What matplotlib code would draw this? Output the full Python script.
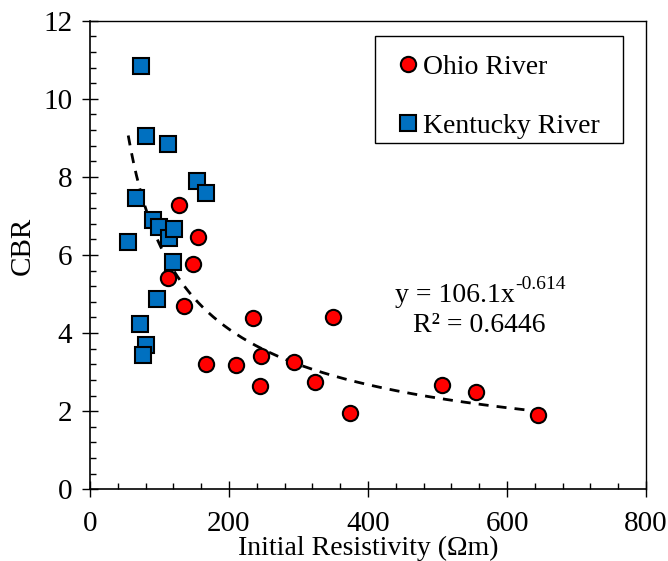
import numpy as np
import matplotlib
matplotlib.use("Agg")
import matplotlib.pyplot as plt
from matplotlib.patches import Rectangle
from matplotlib.ticker import MultipleLocator

plt.rcParams["font.family"] = ["Liberation Serif", "DejaVu Serif"]

# Ohio River samples: initial resistivity (ohm-m) vs CBR
ohio_res = [128.5, 155.0, 148.6, 112.7, 134.8, 166.2, 209.5, 235.0, 349.2,
            245.6, 293.5, 245.0, 323.7, 374.8, 506.0, 554.9, 645.0]
ohio_cbr = [7.28, 6.45, 5.76, 5.42, 4.69, 3.21, 3.18, 4.38, 4.42,
            3.41, 3.25, 2.65, 2.74, 1.95, 2.67, 2.48, 1.90]

# Kentucky River samples
ky_res = [73.4, 81.0, 112.2, 153.5, 166.5, 65.8, 90.2, 98.8, 113.2,
          121.3, 119.8, 55.0, 96.0, 71.5, 80.1, 76.7]
ky_cbr = [10.84, 9.05, 8.85, 7.89, 7.60, 7.45, 6.89, 6.72, 6.44,
          6.66, 5.82, 6.33, 4.88, 4.24, 3.70, 3.45]

# Power-law trendline for the combined data set
coef_a = 106.1
coef_b = -0.614
r_squared = 0.6446

W, H = 668, 561
fig = plt.figure(figsize=(W / 100, H / 100), dpi=100)
ax = fig.add_axes([90 / W, 1 - 489.3 / H, 556 / W, (489.3 - 20.7) / H])

all_x = np.array(ohio_res + ky_res)
xs = np.linspace(all_x.min(), all_x.max(), 300)
ax.plot(xs, coef_a * xs ** coef_b, color="black", lw=2.0,
        linestyle=(0, (3.6, 2.9)), zorder=2)

ax.plot(ky_res, ky_cbr, linestyle="none", marker="s", markersize=11,
        markerfacecolor="#0070C0", markeredgecolor="black",
        markeredgewidth=1.5, label="Kentucky River", zorder=3)
ax.plot(ohio_res, ohio_cbr, linestyle="none", marker="o", markersize=11,
        markerfacecolor="#FF0000", markeredgecolor="black",
        markeredgewidth=1.5, label="Ohio River", zorder=4)

ax.set_xlim(0, 800)
ax.set_ylim(0, 12)
ax.xaxis.set_major_locator(MultipleLocator(200))
ax.xaxis.set_minor_locator(MultipleLocator(40))
ax.yaxis.set_major_locator(MultipleLocator(2))
ax.yaxis.set_minor_locator(MultipleLocator(0.4))

ax.tick_params(which="major", direction="inout", length=11.5, width=1.0,
               labelsize=21, color="black")
ax.tick_params(which="minor", direction="in", length=4.3, width=1.0,
               color="black")
ax.tick_params(axis="x", which="major", pad=10)
ax.tick_params(axis="y", which="major", pad=7)

for side in ["left", "bottom"]:
    ax.spines[side].set_linewidth(1.2)
for side in ["top", "right"]:
    ax.spines[side].set_linewidth(1.0)

ax.set_xlabel("Initial Resistivity (Ωm)", fontsize=20, labelpad=-1)
ax.set_ylabel("CBR", fontsize=21)
ax.yaxis.set_label_coords(-0.097, 0.52)

# Legend entries, with a plain rectangular frame around them
handles, labels = ax.get_legend_handles_labels()
ax.legend(handles[::-1], labels[::-1], loc="upper left",
          bbox_to_anchor=(375 / W, 1 - 42 / H),
          bbox_transform=fig.transFigure, fontsize=20, frameon=False,
          handlelength=1.48, handletextpad=-0.2, labelspacing=1.2,
          borderpad=0.45, borderaxespad=0)
fig.patches.append(Rectangle((375 / W, 1 - 143 / H), 248 / W, 107 / H,
                             transform=fig.transFigure, fill=False,
                             edgecolor="black", linewidth=1.0))

eq = ax.text(515 / W, 1 - 296 / H, "y = 106.1x",
             transform=fig.transFigure, ha="right", va="center",
             fontsize=20)
ax.annotate(f"{coef_b:.3f}", xy=(1.0, 0.62), xycoords=eq,
            ha="left", va="bottom", fontsize=14)
ax.text(479 / W, 1 - 326 / H, f"R² = {r_squared:.4f}",
        transform=fig.transFigure, ha="center", va="center", fontsize=20)

fig.savefig("out.png", dpi=100)
